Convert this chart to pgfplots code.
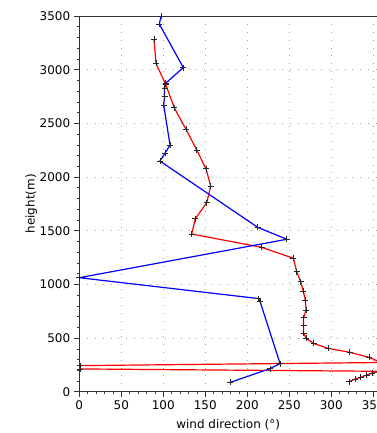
\documentclass[border=0pt]{standalone}
\usepackage{fontspec}
\setmainfont{DejaVu Sans}
\usepackage{pgfplots}
\pgfplotsset{compat=1.18}
\begin{document}
\fontsize{12}{14}\selectfont
\begin{tikzpicture}
\begin{axis}[
  scale only axis,
  width=297.7bp, height=375.7bp,
  xmin=0, xmax=354.4, ymin=0, ymax=3500,
  axis x line*=box, axis y line*=left,
  axis line style={-, black!80, line width=0.6bp},
  xtick={0,50,...,350}, ytick={0,500,...,3500},
  minor x tick num=4, minor y tick num=4,
  tick align=outside, major tick length=5bp, minor tick length=2bp,
  tick style={black!80, line width=0.5bp},
  xtick pos=bottom, ytick pos=left,
  grid=major,
  major grid style={gray!70, line width=0.5bp, dash pattern=on 0.8bp off 7bp},
  /pgf/number format/assume math mode=true,
  /pgf/number format/1000 sep={},
  tick label style={font=\fontsize{12}{14}\selectfont},
  xlabel={wind direction (°)}, ylabel={height(m)},
  label style={font=\fontsize{13.8}{16}\selectfont},
  every axis x label/.style={at={(axis description cs:0.5,0)}, anchor=center, yshift=-33bp},
  every axis y label/.style={at={(axis description cs:0,0.5)}, anchor=center, xshift=-48bp, rotate=90},
  clip=true,
]
\coordinate (SW) at (rel axis cs:0,0);
\coordinate (NE) at (rel axis cs:1,1);
\addplot[red, line width=1.2bp, mark=+, mark size=3bp, mark options={black!85, line width=0.6bp}] coordinates {
(88.9,3285) (91.3,3059) (102.8,2864) (113,2646) (127,2444) (139.8,2252)
(150.8,2077) (156.4,1916) (151.7,1761) (138.1,1612) (133.8,1469)
(217.1,1345) (254.8,1243) (258.8,1118) (263.5,1025) (266.7,938)
(269,853) (270,760) (267,690) (267,620) (267,545) (270,497) (279,450)
(296,404) (322,367) (345,320) (359,272) (1,243) (1,212) (359,190)
(349,175) (342,155) (335,134) (328,116) (321,93)
};
\addplot[blue, line width=1.2bp, mark=+, mark size=3bp, mark options={black!85, line width=0.6bp}] coordinates {
(97.5,3500) (95.2,3425) (123.8,3020) (102.8,2873) (101.5,2826) (101.5,2748)
(100.5,2671) (108,2298) (102,2221) (96,2149) (212.4,1531) (247,1420)
(0,1062) (213,868) (215,845) (239,262) (227,215) (179.4,86)
};
\end{axis}
\pgfresetboundingbox
\path ([xshift=-79.3bp,yshift=-41.3bp]SW) rectangle ([yshift=16bp]NE);
\end{tikzpicture}
\end{document}
